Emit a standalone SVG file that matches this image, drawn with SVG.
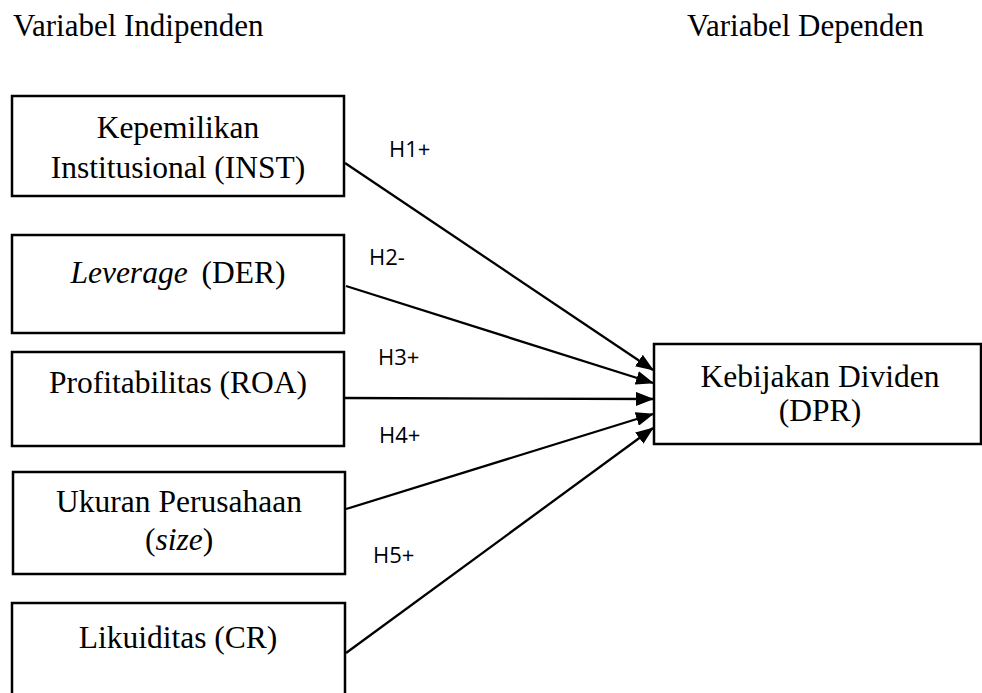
<svg xmlns="http://www.w3.org/2000/svg" width="982" height="693" viewBox="0 0 982 693">
<style>
.box{fill:#fff;stroke:#000;stroke-width:2.5}
.t{font-family:"Liberation Serif","Times New Roman",serif;font-size:31.5px;fill:#000;text-anchor:middle}
.title{font-family:"Liberation Serif","Times New Roman",serif;font-size:31px;fill:#000}
.h{font-family:"Open Sans","Noto Sans",sans-serif;font-size:22px;fill:#000}
.c{stroke:#000;stroke-width:2.3;fill:none;marker-end:url(#ah)}
</style>
<defs>
<marker id="ah" markerWidth="18" markerHeight="14" refX="17" refY="7" orient="auto" markerUnits="userSpaceOnUse">
<path d="M0,0 L18,7 L0,14 Z" fill="#000"/>
</marker>
</defs>
<text class="title" x="13" y="36">Variabel Indipenden</text>
<text class="title" x="687" y="36">Variabel Dependen</text>
<g id="inst">
<rect class="box" x="12" y="96" width="332" height="100"/>
<text class="t" x="178" y="138">Kepemilikan</text>
<text class="t" x="178" y="178">Institusional (INST)</text>
</g>
<g id="der">
<rect class="box" x="12" y="235" width="332" height="98"/>
<text class="t" x="178" y="283"><tspan font-style="italic">Leverage</tspan><tspan dx="14">(DER)</tspan></text>
</g>
<g id="roa">
<rect class="box" x="12" y="352" width="332" height="94"/>
<text class="t" x="178" y="393">Profitabilitas (ROA)</text>
</g>
<g id="size">
<rect class="box" x="13" y="472" width="332" height="102"/>
<text class="t" x="179" y="512">Ukuran Perusahaan</text>
<text class="t" x="179" y="550">(<tspan font-style="italic">size</tspan>)</text>
</g>
<g id="cr">
<rect class="box" x="12" y="603" width="333" height="110"/>
<text class="t" x="178" y="648">Likuiditas (CR)</text>
</g>
<g id="dpr">
<rect class="box" x="654" y="344" width="327" height="100"/>
<text class="t" x="820" y="387">Kebijakan Dividen</text>
<text class="t" x="820" y="421">(DPR)</text>
</g>
<g id="connectors">
<line class="c" x1="345" y1="163" x2="653" y2="370"/>
<line class="c" x1="346" y1="286" x2="653" y2="383"/>
<line class="c" x1="345" y1="398" x2="653" y2="399"/>
<line class="c" x1="346" y1="509" x2="653" y2="414"/>
<line class="c" x1="346" y1="653" x2="653" y2="428"/>
<text class="h" x="389" y="157">H1+</text>
<text class="h" x="369" y="265">H2-</text>
<text class="h" x="378" y="365">H3+</text>
<text class="h" x="379" y="443">H4+</text>
<text class="h" x="373" y="563">H5+</text>
</g>
</svg>
